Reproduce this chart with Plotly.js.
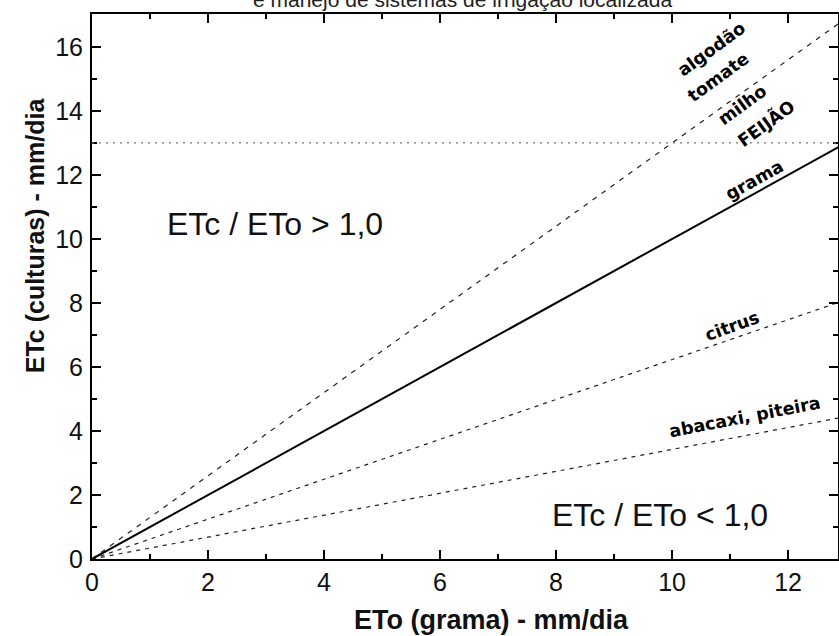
<!DOCTYPE html>
<html>
<head>
<meta charset="utf-8">
<script src="https://cdn.plot.ly/plotly-3.0.1.min.js"></script>
<style>html,body{margin:0;padding:0;background:#fff}#chart{width:839px;height:636px}</style>
</head>
<body>
<div id="chart"></div>
<script>
// ETo (grama) - mm/dia
const eto = [0, 13];
// ETc (culturas) - mm/dia
const etcAlgodao = [0, 16.9];
const etcGrama = [0, 13.0];
const etcCitrus = [0, 8.1];
const etcAbacaxi = [0, 4.45];
const limiteEtc = 13;
const xTicks = [0, 2, 4, 6, 8, 10, 12];
const yTicks = [0, 2, 4, 6, 8, 10, 12, 14, 16];
const cropLabels = ["algodão", "tomate", "milho", "FEIJÃO", "grama", "citrus", "abacaxi, piteira"];
const cropLabelX = [10.68, 10.8, 11.21, 11.61, 11.42, 11.04, 11.25];
const cropLabelY = [15.94, 15.06, 14.19, 13.63, 11.84, 7.28, 4.44];
const cropLabelAngle = [-36, -36, -36, -36, -29, -20, -11];
const regionLabels = ["ETc / ETo > 1,0", "ETc / ETo < 1,0"];
const regionX = [3.16, 9.8];
const regionY = [10.47, 1.375];

const traces = [
  {x: eto, y: etcAlgodao, mode: 'lines', line: {color: '#222', width: 1.2, dash: '5px,6px'}},
  {x: eto, y: etcGrama, mode: 'lines', line: {color: '#000', width: 2}},
  {x: eto, y: etcCitrus, mode: 'lines', line: {color: '#222', width: 1.2, dash: '4px,5px'}},
  {x: eto, y: etcAbacaxi, mode: 'lines', line: {color: '#222', width: 1.2, dash: '4px,5px'}}
];

const annotations = [];
cropLabels.forEach((t, i) => annotations.push({
  x: cropLabelX[i], y: cropLabelY[i], xref: 'x', yref: 'y', text: t, showarrow: false,
  xanchor: 'center', yanchor: 'middle',
  textangle: cropLabelAngle[i], font: {family: 'DejaVu Sans', size: 17.5, color: '#000', weight: 'bold'}
}));
regionLabels.forEach((t, i) => annotations.push({
  x: regionX[i], y: regionY[i], xref: 'x', yref: 'y', text: t, showarrow: false,
  xanchor: 'center', yanchor: 'middle',
  font: {family: 'Liberation Sans, Arial', size: 32, color: '#111'}
}));
annotations.push({x: 0.496, y: 1.0257, xref: 'paper', yref: 'paper', text: 'e manejo de sistemas de irrigação localizada',
  showarrow: false, xanchor: 'center', yanchor: 'middle', font: {family: 'Liberation Sans, Arial', size: 21, color: '#222'}});
annotations.push({x: 0.535, y: -0.112, xref: 'paper', yref: 'paper', text: 'ETo (grama) - mm/dia',
  showarrow: false, xanchor: 'center', yanchor: 'middle', font: {family: 'Liberation Sans, Arial', size: 27, color: '#111', weight: 'bold'}});
annotations.push({x: -0.0764, y: 0.594, xref: 'paper', yref: 'paper', text: 'ETc (culturas) - mm/dia', textangle: -90,
  showarrow: false, xanchor: 'center', yanchor: 'middle', font: {family: 'Liberation Sans, Arial', size: 25, color: '#111', weight: 'bold'}});

const axisCommon = {
  showgrid: false, zeroline: false, showline: true, linecolor: '#000', linewidth: 2,
  mirror: 'ticks', ticks: 'inside', ticklen: 9, tickwidth: 1.5, tickcolor: '#000',
  tickfont: {family: 'Liberation Sans, Arial', size: 25, color: '#111'},
  minor: {dtick: 1, ticks: 'inside', ticklen: 5, tickwidth: 1.5, tickcolor: '#000'}
};

const layout = {
  width: 839, height: 636,
  margin: {l: 92, r: 1, t: 14, b: 77},
  paper_bgcolor: '#fff', plot_bgcolor: '#fff',
  showlegend: false, hovermode: false,
  xaxis: Object.assign({}, axisCommon, {range: [0, 12.86], tickvals: xTicks, ticktext: xTicks.map(String), ticklabelstandoff: 0}),
  yaxis: Object.assign({}, axisCommon, {range: [0, 17.03], tickvals: yTicks, ticktext: yTicks.map(String), ticklabelstandoff: 2}),
  shapes: [{type: 'line', xref: 'paper', x0: 0, x1: 1, yref: 'y', y0: limiteEtc, y1: limiteEtc,
    line: {color: '#777', width: 1.3, dash: '2px,5px'}}],
  annotations: annotations
};

Plotly.newPlot('chart', traces, layout, {displayModeBar: false, staticPlot: true});
</script>
</body>
</html>
